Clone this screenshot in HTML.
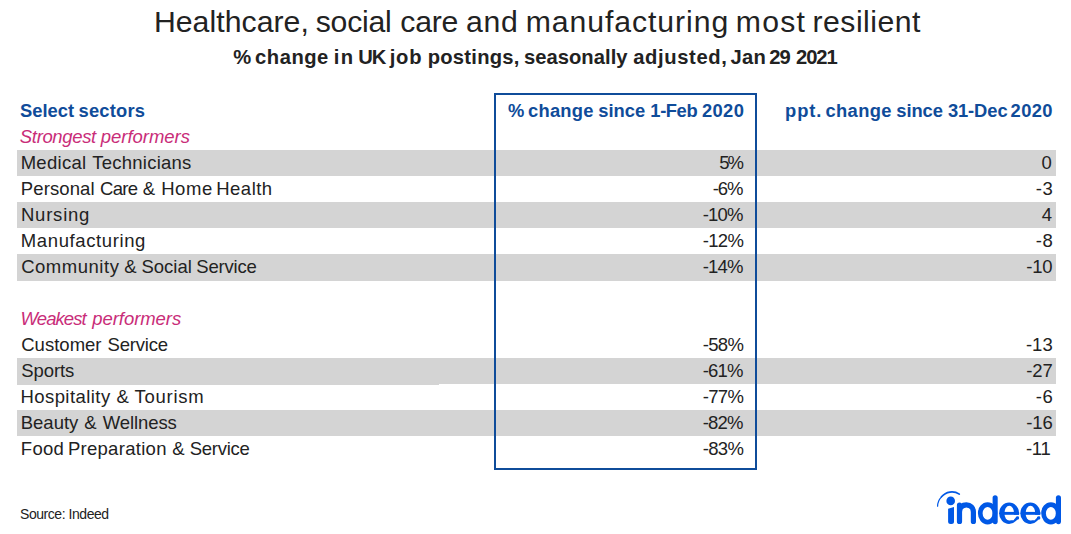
<!DOCTYPE html>
<html><head><meta charset="utf-8">
<style>
html,body{margin:0;padding:0;background:#fff;}
body{width:1071px;height:534px;position:relative;overflow:hidden;font-family:"Liberation Sans",sans-serif;color:#222;}
.title{position:absolute;left:0;width:1074.5px;top:0.5px;text-align:center;font-size:30.2px;line-height:42px;color:#222;white-space:nowrap;letter-spacing:0.273px;}
.sub{position:absolute;left:0;width:1071px;top:43.4px;text-align:center;font-size:20.2px;line-height:28px;font-weight:bold;color:#222;white-space:nowrap;letter-spacing:0px;}
.tw{position:absolute;top:0.5px;font-size:30.2px;line-height:42px;color:#222;white-space:nowrap;}
.sw{position:absolute;top:43.4px;font-size:20.2px;line-height:28px;font-weight:bold;color:#222;white-space:nowrap;}
.band{position:absolute;left:17px;width:1039px;height:26px;background:#d4d4d4;}
.box{position:absolute;left:494px;top:93px;width:263px;height:377px;box-sizing:border-box;border:2px solid #0f4c9a;}
.t{position:absolute;height:26px;line-height:26px;font-size:18.5px;white-space:nowrap;}
.hd{font-weight:bold;color:#0f4c9a;font-size:18.35px;}
.sec{font-style:italic;color:#c92d79;}
.rw{color:#222;}
.r2{right:327px;text-align:right;}
.r3{right:19px;text-align:right;}
.src{position:absolute;left:20px;top:505px;font-size:14px;line-height:18px;color:#222;letter-spacing:-0.45px;}
.logo{position:absolute;left:0;top:0;}
</style></head><body>
<div class="band" style="top:150px"></div>
<div class="band" style="top:202px"></div>
<div class="band" style="top:254px;height:27px"></div>
<div class="band" style="top:358px"></div>
<div class="band" style="top:384px;height:1px;width:422px"></div>
<div class="band" style="top:410px"></div>
<div class="t hd" style="left:20.03px;top:98px;letter-spacing:-0.001px">Select</div>
<div class="t hd" style="left:78.61px;top:98px;letter-spacing:0.173px">sectors</div>
<div class="t sec" style="left:19.86px;top:124px;letter-spacing:-0.355px">Strongest</div>
<div class="t sec" style="left:100.85px;top:124px;letter-spacing:-0.031px">performers</div>
<div class="t rw" style="left:20.68px;top:150px;letter-spacing:0.280px">Medical</div>
<div class="t rw" style="left:92.19px;top:150px;letter-spacing:0.248px">Technicians</div>
<div class="t rw" style="left:20.82px;top:176px;letter-spacing:0.111px">Personal</div>
<div class="t rw" style="left:99.97px;top:176px;letter-spacing:-0.648px">Care</div>
<div class="t rw" style="left:142.84px;top:176px;letter-spacing:0.000px">&amp;</div>
<div class="t rw" style="left:161.22px;top:176px;letter-spacing:0.535px">Home</div>
<div class="t rw" style="left:216.27px;top:176px;letter-spacing:0.474px">Health</div>
<div class="t rw" style="left:20.91px;top:202px;letter-spacing:0.792px">Nursing</div>
<div class="t rw" style="left:20.82px;top:228px;letter-spacing:0.610px">Manufacturing</div>
<div class="t rw" style="left:21.17px;top:254px;letter-spacing:0.523px">Community</div>
<div class="t rw" style="left:124.13px;top:254px;letter-spacing:0.000px">&amp;</div>
<div class="t rw" style="left:141.58px;top:254px;letter-spacing:-0.043px">Social</div>
<div class="t rw" style="left:196.37px;top:254px;letter-spacing:-0.198px">Service</div>
<div class="t sec" style="left:20.59px;top:306px;letter-spacing:-0.927px">Weakest</div>
<div class="t sec" style="left:92.34px;top:306px;letter-spacing:-0.065px">performers</div>
<div class="t rw" style="left:21.26px;top:332px;letter-spacing:0.012px">Customer</div>
<div class="t rw" style="left:107.47px;top:332px;letter-spacing:-0.169px">Service</div>
<div class="t rw" style="left:21.35px;top:358px;letter-spacing:-0.099px">Sports</div>
<div class="t rw" style="left:20.43px;top:384px;letter-spacing:0.438px">Hospitality</div>
<div class="t rw" style="left:116.44px;top:384px;letter-spacing:0.000px">&amp;</div>
<div class="t rw" style="left:134.38px;top:384px;letter-spacing:0.758px">Tourism</div>
<div class="t rw" style="left:20.79px;top:410px;letter-spacing:-0.024px">Beauty</div>
<div class="t rw" style="left:84.18px;top:410px;letter-spacing:0.000px">&amp;</div>
<div class="t rw" style="left:102.68px;top:410px;letter-spacing:-0.080px">Wellness</div>
<div class="t rw" style="left:20.82px;top:436px;letter-spacing:0.297px">Food</div>
<div class="t rw" style="left:67.89px;top:436px;letter-spacing:0.291px">Preparation</div>
<div class="t rw" style="left:172.14px;top:436px;letter-spacing:0.000px">&amp;</div>
<div class="t rw" style="left:189.69px;top:436px;letter-spacing:-0.245px">Service</div>
<div class="t hd" style="left:507.98px;top:98px;letter-spacing:0.000px">%</div>
<div class="t hd" style="left:528.01px;top:98px;letter-spacing:0.234px">change</div>
<div class="t hd" style="left:598.24px;top:98px;letter-spacing:-0.015px">since</div>
<div class="t hd" style="left:650.36px;top:98px;letter-spacing:-0.425px">1-Feb</div>
<div class="t hd" style="left:701.92px;top:98px;letter-spacing:0.373px">2020</div>
<div class="t hd" style="left:785.09px;top:98px;letter-spacing:0.899px">ppt.</div>
<div class="t hd" style="left:825.53px;top:98px;letter-spacing:0.340px">change</div>
<div class="t hd" style="left:896.28px;top:98px;letter-spacing:-0.070px">since</div>
<div class="t hd" style="left:947.88px;top:98px;letter-spacing:-0.092px">31-Dec</div>
<div class="t hd" style="left:1010.56px;top:98px;letter-spacing:0.388px">2020</div>
<div class="t rw" style="left:719.31px;top:150px;letter-spacing:-2.196px">5%</div>
<div class="t rw" style="left:712.65px;top:176px;letter-spacing:-0.999px">-6%</div>
<div class="t rw" style="left:702.75px;top:202px;letter-spacing:-0.842px">-10%</div>
<div class="t rw" style="left:702.65px;top:228px;letter-spacing:-0.631px">-12%</div>
<div class="t rw" style="left:702.75px;top:254px;letter-spacing:-0.842px">-14%</div>
<div class="t rw" style="left:702.65px;top:332px;letter-spacing:-0.631px">-58%</div>
<div class="t rw" style="left:702.75px;top:358px;letter-spacing:-0.842px">-61%</div>
<div class="t rw" style="left:702.65px;top:384px;letter-spacing:-0.631px">-77%</div>
<div class="t rw" style="left:702.75px;top:410px;letter-spacing:-0.842px">-82%</div>
<div class="t rw" style="left:702.65px;top:436px;letter-spacing:-0.631px">-83%</div>
<div class="t rw" style="left:1041.62px;top:150px;letter-spacing:0.000px">0</div>
<div class="t rw" style="left:1035.65px;top:176px;letter-spacing:0.739px">-3</div>
<div class="t rw" style="left:1041.71px;top:202px;letter-spacing:0.000px">4</div>
<div class="t rw" style="left:1035.65px;top:228px;letter-spacing:0.708px">-8</div>
<div class="t rw" style="left:1026.14px;top:254px;letter-spacing:-0.143px">-10</div>
<div class="t rw" style="left:1025.94px;top:332px;letter-spacing:-0.004px">-13</div>
<div class="t rw" style="left:1026.14px;top:358px;letter-spacing:-0.090px">-27</div>
<div class="t rw" style="left:1035.65px;top:384px;letter-spacing:0.712px">-6</div>
<div class="t rw" style="left:1026.14px;top:410px;letter-spacing:-0.027px">-16</div>
<div class="t rw" style="left:1025.94px;top:436px;letter-spacing:-0.231px">-11</div>
<div class="tw" style="left:153.94px;letter-spacing:0.048px">Healthcare,</div>
<div class="tw" style="left:315.74px;letter-spacing:-0.232px">social</div>
<div class="tw" style="left:400.29px;letter-spacing:-0.225px">care</div>
<div class="tw" style="left:466.01px;letter-spacing:0.656px">and</div>
<div class="tw" style="left:525.65px;letter-spacing:0.937px">manufacturing</div>
<div class="tw" style="left:735.71px;letter-spacing:1.294px">most</div>
<div class="tw" style="left:812.51px;letter-spacing:0.481px">resilient</div>
<div class="sw" style="left:233.16px;letter-spacing:0.000px">%</div>
<div class="sw" style="left:255.04px;letter-spacing:0.522px">change</div>
<div class="sw" style="left:333.72px;letter-spacing:1.329px">in</div>
<div class="sw" style="left:358.17px;letter-spacing:-0.988px">UK</div>
<div class="sw" style="left:389.78px;letter-spacing:0.720px">job</div>
<div class="sw" style="left:427.64px;letter-spacing:0.261px">postings,</div>
<div class="sw" style="left:523.88px;letter-spacing:0.044px">seasonally</div>
<div class="sw" style="left:633.26px;letter-spacing:0.623px">adjusted,</div>
<div class="sw" style="left:730.61px;letter-spacing:0.167px">Jan</div>
<div class="sw" style="left:769.13px;letter-spacing:-0.784px">29</div>
<div class="sw" style="left:795.99px;letter-spacing:-1.034px">2021</div>
<div class="box"></div>
<div class="src">Source: Indeed</div>
<svg class="logo" width="1071" height="534" viewBox="0 0 1071 534">
<g fill="none" stroke="#0058e6" stroke-linecap="round">
<path d="M937.6 506.2 A13.6 13.6 0 0 1 941.5 496.8" stroke-width="1.2"/>
<path d="M941.5 496.8 A13.6 13.6 0 0 1 959.3 494.1" stroke-width="1.7"/>
<circle cx="950.7" cy="500.9" r="4.3" fill="#0058e6" stroke="none"/>
<path d="M948.1 508.7 L954 506.9 V521.5 A2.5 2.5 0 0 1 951.5 524 H950.6 A2.5 2.5 0 0 1 948.1 521.5 Z" fill="#0058e6" stroke="none"/>
<path d="M959.5 521.4 V505.2 M959.5 512 C959.5 507 962.5 504.9 966.4 504.9 C970.5 504.9 973.4 507.5 973.4 512 V521.4" stroke-width="5.2"/>
<ellipse cx="987.60" cy="513.35" rx="7.35" ry="8.8" stroke-width="4.7"/><path d="M995.15 497.7 V521.6" stroke-width="5.1"/>
<ellipse cx="1009.10" cy="513.25" rx="10" ry="10.75" fill="#0058e6" stroke="none"/><ellipse cx="1009.25" cy="513.2" rx="4.85" ry="7.35" fill="#fff" stroke="none"/><path d="M1009.50 514.8 L1020.00 514.8 L1020.00 516.2 C1017.50 516.3 1015.00 517.8 1013.60 520.2 L1009.50 520.2 Z" fill="#fff" stroke="none"/><rect x="1003.50" y="511.9" width="15.6" height="2.9" fill="#0058e6" stroke="none"/><circle cx="1017.40" cy="518.1" r="1.75" fill="#0058e6" stroke="none"/>
<ellipse cx="1030.30" cy="513.25" rx="10" ry="10.75" fill="#0058e6" stroke="none"/><ellipse cx="1030.45" cy="513.2" rx="4.85" ry="7.35" fill="#fff" stroke="none"/><path d="M1030.70 514.8 L1041.20 514.8 L1041.20 516.2 C1038.70 516.3 1036.20 517.8 1034.80 520.2 L1030.70 520.2 Z" fill="#fff" stroke="none"/><rect x="1024.70" y="511.9" width="15.6" height="2.9" fill="#0058e6" stroke="none"/><circle cx="1038.60" cy="518.1" r="1.75" fill="#0058e6" stroke="none"/>
<ellipse cx="1050.90" cy="513.35" rx="7.35" ry="8.8" stroke-width="4.7"/><path d="M1058.45 497.7 V521.6" stroke-width="5.1"/>
</g>
</svg>
</body></html>
